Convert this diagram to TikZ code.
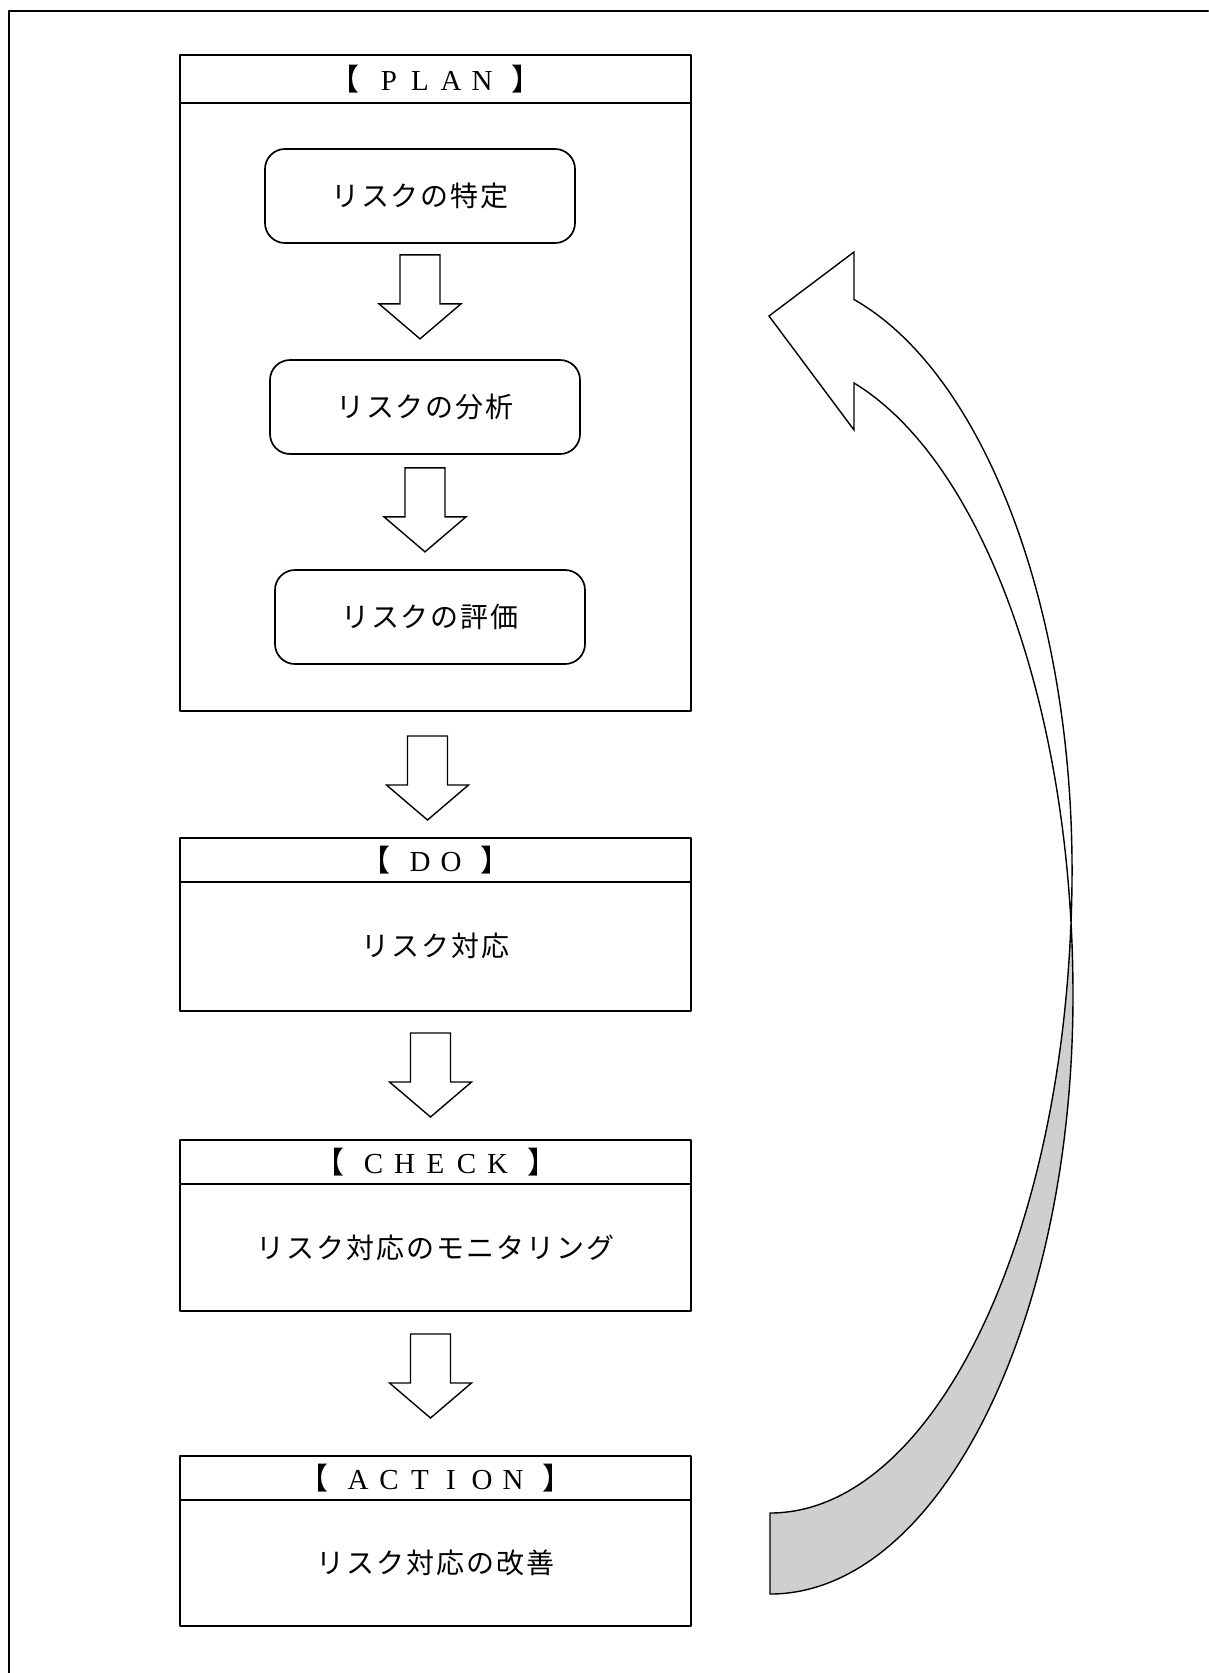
\documentclass[tikz,border=0pt]{standalone}
\usepackage{fontspec}
\usepackage{tikz}
\usetikzlibrary{calc}
\newfontfamily\jpfont{Noto Sans CJK JP}
\newfontfamily\jpspaced{Noto Sans CJK JP}[LetterSpace=7]
\newfontfamily\romanfont{Liberation Serif}
\definecolor{ribbon}{HTML}{CFCFCF}
\newcommand\spacedletter[1]{\makebox[31pt]{#1}}
\newcommand\bracketed[1]{{\jpfont\fontsize{30}{34}\selectfont 【}\hspace{14pt}#1\hspace{14pt}{\jpfont\fontsize{30}{34}\selectfont 】}}
\tikzset{
  every picture/.style={line join=round, line cap=round},
  stagebox/.style={draw, line width=2.3pt, minimum width=511pt, inner sep=0pt,
    outer sep=0pt, anchor=north west},
  headline/.style={line width=2.3pt},
  substep/.style={draw, line width=1.7pt, rounded corners=20pt, minimum width=310pt,
    minimum height=94pt, font=\jpspaced\fontsize{28}{34}\selectfont},
  bodytext/.style={font=\jpspaced\fontsize{28}{34}\selectfont},
  stagetitle/.style={font=\romanfont\fontsize{29}{34}\selectfont, inner sep=0pt},
  arrowline/.style={line width=1.4pt, line join=miter},
  downarrow/.pic={\draw[arrowline] (-20,0) -- (-20,-49) -- (-41,-49) -- (0,-84)
    -- (41,-49) -- (20,-49) -- (20,0) -- cycle;},
}
\begin{document}
\begin{tikzpicture}[x=1pt,y=1pt]
\useasboundingbox (0,0) rectangle (1208,-1673);
% frame of the page, open to the right and below
\draw[line width=2.3pt] (9,-1673) -- (9,-11) -- (1208,-11);

% PLAN
\node[stagebox, minimum height=656pt] (plan) at (180,-55) {};
\draw[headline] ([yshift=-48pt]plan.north west) -- ([yshift=-48pt]plan.north east);
\node[stagetitle] (plantitle) at ([yshift=-24pt]plan.north)
  {\bracketed{\spacedletter{P}\spacedletter{L}\spacedletter{A}\spacedletter{N}}};
\node[substep] (ident) at (420,-196) {リスクの特定};
\node[substep] (analysis) at (425,-407) {リスクの分析};
\node[substep] (evaluation) at (430,-617) {リスクの評価};
\pic at ([yshift=-11pt]ident.south) {downarrow};
\pic at ([yshift=-13pt]analysis.south) {downarrow};
\pic at ([shift={(-8pt,-25pt)}]plan.south) {downarrow};

% DO
\node[stagebox, minimum height=173pt] (do) at (180,-838) {};
\draw[headline] ([yshift=-44pt]do.north west) -- ([yshift=-44pt]do.north east);
\node[stagetitle] (dotitle) at ([yshift=-22pt]do.north)
  {\bracketed{\spacedletter{D}\spacedletter{O}}};
\node[bodytext] (dotext) at ([yshift=-108pt]do.north) {リスク対応};
\pic at ([shift={(-5pt,-22pt)}]do.south) {downarrow};

% CHECK
\node[stagebox, minimum height=171pt] (check) at (180,-1140) {};
\draw[headline] ([yshift=-44pt]check.north west) -- ([yshift=-44pt]check.north east);
\node[stagetitle] (checktitle) at ([yshift=-22pt]check.north)
  {\bracketed{\spacedletter{C}\spacedletter{H}\spacedletter{E}\spacedletter{C}\spacedletter{K}}};
\node[bodytext] (checktext) at ([yshift=-108pt]check.north) {リスク対応のモニタリング};
\pic at ([shift={(-5pt,-23pt)}]check.south) {downarrow};

% ACTION
\node[stagebox, minimum height=170pt] (action) at (180,-1456) {};
\draw[headline] ([yshift=-44pt]action.north west) -- ([yshift=-44pt]action.north east);
\node[stagetitle] (actiontitle) at ([yshift=-22pt]action.north)
  {\bracketed{\spacedletter{A}\spacedletter{C}\spacedletter{T}\spacedletter{I}\spacedletter{O}\spacedletter{N}}};
\node[bodytext] (actiontext) at ([yshift=-107pt]action.north) {リスク対応の改善};

% curved return arrow: grey back face below the twist, white front face above
\coordinate (tailtop) at (770,-1513);
\coordinate (twist) at (1071.3,-928);
\filldraw[arrowline, fill=ribbon] (tailtop)
  arc[start angle=-90, end angle=-5.18, x radius=302, y radius=643]
  -- (twist)
  arc[start angle=6.04, end angle=0, x radius=303, y radius=637]
  arc[start angle=0, end angle=-90, x radius=303, y radius=599] -- cycle;
\filldraw[arrowline, fill=white] (1070.8,-928.1)
  arc[start angle=-5.18, end angle=0, x radius=302, y radius=643]
  arc[start angle=0, end angle=73.86, x radius=302, y radius=594]
  -- (854,-252) -- (769,-316) -- (854,-430) -- (854,-383)
  arc[start angle=73.9, end angle=6.04, x radius=303, y radius=637] -- cycle;
\end{tikzpicture}
\end{document}
